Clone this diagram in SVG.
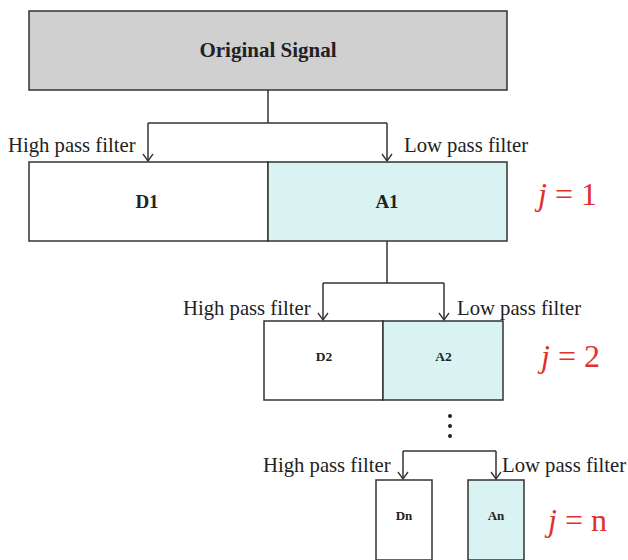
<svg xmlns="http://www.w3.org/2000/svg" width="628" height="560" viewBox="0 0 628 560">
  <style>
    .box { stroke: #333; stroke-width: 1.5; }
    .sig { fill: #d0d0d0; }
    .det { fill: #ffffff; }
    .app { fill: #d9f3f3; }
    .wire { fill: none; stroke: #333; stroke-width: 1.5; }
    .lbl { font-family: "Liberation Serif", "Times New Roman", serif; font-size: 20.7px; fill: #222; }
    .name { font-family: "Liberation Serif", "Times New Roman", serif; font-weight: bold; fill: #222; text-anchor: middle; }
    .lev { font-family: "Liberation Serif", "Times New Roman", serif; font-size: 32px; fill: #e0322c; }
  </style>
  <defs>
    <!-- open V arrowhead, tip at the end of the line -->
    <marker id="arrow" viewBox="0 0 10 12" refX="9" refY="6" markerWidth="10" markerHeight="12" markerUnits="userSpaceOnUse" orient="auto">
      <path d="M2,1 L9,6 L2,11" fill="none" stroke="#333" stroke-width="1.3"/>
    </marker>
  </defs>

  <g id="connectors">
    <!-- level 1 split -->
    <path class="wire" d="M268,90 V123"/>
    <path class="wire" d="M148,123 H387"/>
    <path class="wire" d="M148,123 V161" marker-end="url(#arrow)"/>
    <path class="wire" d="M387,123 V161" marker-end="url(#arrow)"/>
    <!-- level 2 split -->
    <path class="wire" d="M387,241 V283"/>
    <path class="wire" d="M323,283 H444"/>
    <path class="wire" d="M323,283 V320" marker-end="url(#arrow)"/>
    <path class="wire" d="M444,283 V320" marker-end="url(#arrow)"/>
    <!-- level n split -->
    <path class="wire" d="M403,451 H496"/>
    <path class="wire" d="M403,451 V479" marker-end="url(#arrow)"/>
    <path class="wire" d="M496,451 V479" marker-end="url(#arrow)"/>
    <!-- continuation dots -->
    <circle cx="450" cy="416" r="2" fill="#222"/>
    <circle cx="450" cy="426" r="2" fill="#222"/>
    <circle cx="450" cy="436" r="2" fill="#222"/>
  </g>

  <g id="filter-labels">
    <text class="lbl" x="8" y="152">High pass filter</text>
    <text class="lbl" x="404" y="152">Low pass filter</text>
    <text class="lbl" x="183" y="315">High pass filter</text>
    <text class="lbl" x="457" y="315">Low pass filter</text>
    <text class="lbl" x="263" y="472">High pass filter</text>
    <text class="lbl" x="502" y="472">Low pass filter</text>
  </g>

  <g id="original-signal">
    <rect class="box sig" x="29" y="11" width="478" height="79"/>
    <text class="name" x="268" y="57" font-size="21">Original Signal</text>
  </g>

  <g id="D1">
    <rect class="box det" x="29" y="162" width="239" height="79"/>
    <text class="name" x="147" y="208" font-size="19">D1</text>
  </g>
  <g id="A1">
    <rect class="box app" x="268" y="162" width="239" height="79"/>
    <text class="name" x="387" y="208" font-size="19">A1</text>
  </g>

  <g id="D2">
    <rect class="box det" x="264" y="321" width="119" height="79"/>
    <text class="name" x="324" y="361" font-size="13.5">D2</text>
  </g>
  <g id="A2">
    <rect class="box app" x="383" y="321" width="120" height="79"/>
    <text class="name" x="443.5" y="361" font-size="13.5">A2</text>
  </g>

  <g id="Dn">
    <rect class="box det" x="376" y="480" width="56" height="80"/>
    <text class="name" x="404" y="519.5" font-size="13">Dn</text>
  </g>
  <g id="An">
    <rect class="box app" x="468" y="480" width="56" height="80"/>
    <text class="name" x="496" y="519.5" font-size="13">An</text>
  </g>

  <g id="levels">
    <text class="lev" x="538" y="205"><tspan font-style="italic">j</tspan> = 1</text>
    <text class="lev" x="541" y="367"><tspan font-style="italic">j</tspan> = 2</text>
    <text class="lev" x="548" y="531"><tspan font-style="italic">j</tspan> = n</text>
  </g>
</svg>
